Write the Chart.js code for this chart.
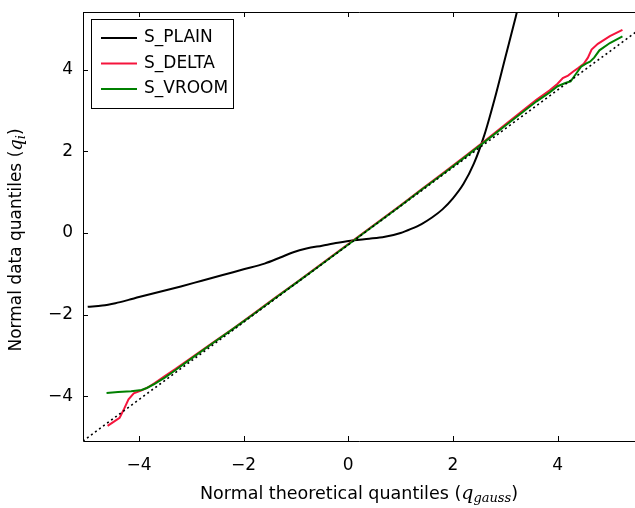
<!DOCTYPE html>
<html>
<head>
<meta charset="utf-8">
<script src="https://cdn.jsdelivr.net/npm/chart.js@4/dist/chart.umd.min.js"></script>
<style>
  body { margin: 0; background: #fff; }
  #wrap { width: 635px; height: 508px; }
</style>
</head>
<body>
<div id="wrap"><canvas id="qq" width="635" height="508"></canvas></div>
<script>
// 系列データ
const seriesNames = ['S_PLAIN', 'S_DELTA', 'S_VROOM'];

const plainX = [-4.98, -4.7, -4.45, -4.2, -4.0, -3.6, -3.2, -2.8, -2.4, -2.0, -1.6, -1.3, -1.05, -0.8, -0.5, -0.2, 0.1, 0.4, 0.7, 1.0, 1.2, 1.4, 1.6, 1.8, 2.0, 2.2, 2.4, 2.6, 2.8, 3.0, 3.2, 3.35];
const plainY = [-1.81, -1.78, -1.72, -1.64, -1.57, -1.44, -1.31, -1.17, -1.03, -0.89, -0.75, -0.6, -0.47, -0.38, -0.31, -0.24, -0.18, -0.14, -0.09, 0.0, 0.1, 0.22, 0.38, 0.58, 0.85, 1.2, 1.7, 2.4, 3.3, 4.3, 5.3, 6.1];

const deltaX = [-4.6, -4.45, -4.37, -4.28, -4.2, -4.1, -3.95, -3.85, -3.7, -3.5, -3.3, -3.0, -2.6, -2.2, -1.8, -1.4, -1.0, -0.6, -0.2, 0.2, 0.6, 1.0, 1.4, 1.8, 2.2, 2.6, 3.0, 3.3, 3.6, 3.85, 4.0, 4.1, 4.2, 4.3, 4.4, 4.5, 4.58, 4.65, 4.77, 5.0, 5.24];
const deltaY = [-4.73, -4.6, -4.53, -4.3, -4.08, -3.93, -3.86, -3.8, -3.68, -3.5, -3.33, -3.06, -2.7, -2.34, -1.97, -1.59, -1.22, -0.84, -0.46, -0.08, 0.3, 0.68, 1.07, 1.46, 1.85, 2.25, 2.66, 2.97, 3.27, 3.5, 3.66, 3.8, 3.86, 3.96, 4.05, 4.15, 4.3, 4.5, 4.64, 4.83, 4.98];

const vroomX = [-4.62, -4.4, -4.15, -3.95, -3.85, -3.7, -3.5, -3.3, -3.0, -2.6, -2.2, -1.8, -1.4, -1.0, -0.6, -0.2, 0.2, 0.6, 1.0, 1.4, 1.8, 2.2, 2.6, 3.0, 3.3, 3.6, 3.85, 4.0, 4.15, 4.25, 4.35, 4.45, 4.55, 4.62, 4.7, 4.8, 5.0, 5.24];
const vroomY = [-3.92, -3.9, -3.88, -3.85, -3.8, -3.7, -3.54, -3.36, -3.08, -2.71, -2.35, -1.98, -1.6, -1.23, -0.85, -0.47, -0.09, 0.29, 0.67, 1.06, 1.44, 1.83, 2.23, 2.63, 2.93, 3.23, 3.45, 3.6, 3.68, 3.72, 3.9, 4.08, 4.16, 4.2, 4.3, 4.48, 4.66, 4.82];

// 参照線 (点線)
const refX = [-5.07, 5.5];
const refY = [-5.1, 4.93];

// 目盛り
const xTickVals = [-4, -2, 0, 2, 4];
const yTickVals = [-4, -2, 0, 2, 4];

const toPts = (xs, ys) => xs.map((v, i) => ({ x: v, y: ys[i] }));
const minus = v => String(v).replace('-', '\u2212');

const FONT = '"DejaVu Sans", sans-serif';

// 文字列をイタリック・添字付きで描く
function drawRich(ctx, parts, cx, cy) {
    let total = 0;
    parts.forEach(p => { ctx.font = p.font; total += ctx.measureText(p.text).width; });
    let x = cx - total / 2;
    parts.forEach(p => {
        ctx.font = p.font;
        ctx.fillText(p.text, x, cy + (p.dy || 0));
        x += ctx.measureText(p.text).width;
    });
}

// 枠・内向き目盛り・凡例・軸タイトル
const framePlugin = {
    id: 'frame',
    afterDraw: (chart) => {
        const { ctx, chartArea: { left, top, right, bottom }, scales: { x, y } } = chart;
        ctx.save();
        ctx.strokeStyle = '#000';
        ctx.lineWidth = 1;
        ctx.beginPath();
        ctx.moveTo(left + 0.5, top + 0.5);
        ctx.lineTo(right, top + 0.5);
        ctx.moveTo(left + 0.5, top);
        ctx.lineTo(left + 0.5, bottom + 0.5);
        ctx.lineTo(right, bottom + 0.5);
        xTickVals.forEach(v => {
            const px = Math.round(x.getPixelForValue(v)) + 0.5;
            ctx.moveTo(px, bottom);
            ctx.lineTo(px, bottom - 5);
            ctx.moveTo(px, top);
            ctx.lineTo(px, top + 5);
        });
        yTickVals.forEach(v => {
            const py = Math.round(y.getPixelForValue(v)) + 0.5;
            ctx.moveTo(left, py);
            ctx.lineTo(left + 5, py);
        });
        ctx.stroke();

        // 凡例
        const lx = 91.5, ly = 19.5, lw = 142, lh = 89;
        ctx.fillStyle = '#fff';
        ctx.fillRect(lx, ly, lw, lh);
        ctx.strokeRect(lx, ly, lw, lh);
        const ds = chart.data.datasets;
        [0, 1, 2].forEach((k, i) => {
            const yy = 38 + i * 25.5;
            ctx.strokeStyle = ds[(k)].borderColor;
            ctx.lineWidth = 2;
            ctx.beginPath();
            ctx.moveTo(101, yy);
            ctx.lineTo(137, yy);
            ctx.stroke();
            ctx.fillStyle = '#000';
            ctx.font = '17px ' + FONT;
            ctx.textAlign = 'left';
            ctx.textBaseline = 'middle';
            ctx.fillText(ds[(k)].label, 144, yy);
        });

        // 軸タイトル
        ctx.fillStyle = '#000';
        ctx.textAlign = 'left';
        ctx.textBaseline = 'middle';
        drawRich(ctx, [
            { text: 'Normal theoretical quantiles (', font: '17.5px ' + FONT },
            { text: 'q', font: 'italic 19px "DejaVu Serif", serif' },
            { text: 'gauss', font: 'italic 13px "DejaVu Serif", serif', dy: 5 },
            { text: ')', font: '17.5px ' + FONT }
        ], 359, 494);

        ctx.save();
        ctx.translate(17, 240);
        ctx.rotate(-Math.PI / 2);
        drawRich(ctx, [
            { text: 'Normal data quantiles (', font: '17px ' + FONT },
            { text: 'q', font: 'italic 18px "DejaVu Serif", serif' },
            { text: 'i', font: 'italic 13px "DejaVu Serif", serif', dy: 5 },
            { text: ')', font: '17px ' + FONT }
        ], 0, 0);
        ctx.restore();
        ctx.restore();
    }
};

new Chart(document.getElementById('qq').getContext('2d'), {
    type: 'scatter',
    data: {
        datasets: [
            {
                label: seriesNames[0],
                data: toPts(plainX, plainY),
                borderColor: '#000000',
                borderWidth: 2,
                cubicInterpolationMode: 'monotone',
                order: 3
            },
            {
                label: seriesNames[1],
                data: toPts(deltaX, deltaY),
                borderColor: '#f5143c',
                borderWidth: 2,
                tension: 0,
                order: 2
            },
            {
                label: seriesNames[2],
                data: toPts(vroomX, vroomY),
                borderColor: '#008000',
                borderWidth: 2,
                tension: 0,
                order: 1
            },
            {
                label: 'ref',
                data: toPts(refX, refY),
                borderColor: '#000000',
                borderWidth: 1.6,
                borderDash: [2, 3],
                order: 0
            }
        ]
    },
    options: {
        responsive: false,
        animation: false,
        showLine: true,
        elements: { point: { radius: 0, hoverRadius: 0 } },
        layout: { padding: { top: 12, right: 0, left: 0, bottom: 0 } },
        plugins: { legend: { display: false }, tooltip: { enabled: false } },
        scales: {
            x: {
                type: 'linear',
                min: -5.07,
                max: 5.48,
                afterFit: (s) => { s.height = 67; s.paddingLeft = 0; s.paddingRight = 0; },
                afterBuildTicks: (s) => { s.ticks = xTickVals.map(v => ({ value: v })); },
                grid: { display: false, drawTicks: false },
                border: { display: false },
                ticks: {
                    color: '#000',
                    font: { family: FONT, size: 17 },
                    padding: 14,
                    maxRotation: 0,
                    callback: (v) => minus(v)
                }
            },
            y: {
                type: 'linear',
                min: -5.1,
                max: 5.42,
                afterFit: (s) => { s.width = 83; s.paddingTop = 0; s.paddingBottom = 0; },
                afterBuildTicks: (s) => { s.ticks = yTickVals.map(v => ({ value: v })); },
                grid: { display: false, drawTicks: false },
                border: { display: false },
                ticks: {
                    color: '#000',
                    font: { family: FONT, size: 17 },
                    padding: 10,
                    callback: (v) => minus(v)
                }
            }
        }
    },
    plugins: [framePlugin]
});
</script>
</body>
</html>
